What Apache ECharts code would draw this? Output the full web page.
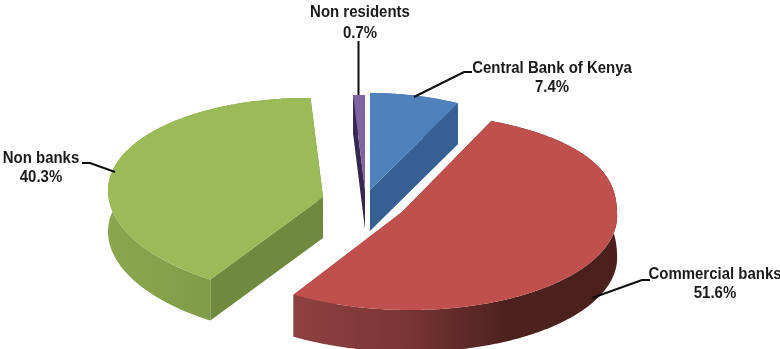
<!DOCTYPE html>
<html><head><meta charset="utf-8">
<style>html,body{margin:0;padding:0;background:#fff}#c{width:780px;height:349px}</style>
<script src="https://cdn.jsdelivr.net/npm/echarts@6/dist/echarts.min.js"></script>
</head><body><div id="c"></div>
<script>
var categories = ['Central Bank of Kenya', 'Commercial banks', 'Non banks', 'Non residents'];
var shares = [7.4, 51.6, 40.3, 0.7];

// Drawing style for each slice: explode position, ellipse radii, shear and colours.
var sliceStyle = [
  {ax:370, ay:190, rx:196, ryB:97,   ryF:97,  sx:0,  sy:0, eB:1,   d:41, top:'#4f81bd', cut:'#376092', wall:['#376092','#376092']},
  {ax:402, ay:212, rx:215, ryB:99.5, ryF:98,  sx:-8, sy:0, eB:0.8, d:42, top:'#c0504d', cut:'#7d3533', wall:['#8f4140','#7a3634','#4c211e','#4a1f1c']},
  {ax:323, ay:197, rx:215, ryB:99,   ryF:101, sx:-3, sy:5, eB:1,   d:41, top:'#9bbb59', cut:'#6f8a3f', wall:['#8aa64e','#84a04a','#7e9847','#7e9847']},
  {ax:365, ay:190, rx:270, ryB:95,   ryF:95,  sx:0,  sy:0, eB:1,   d:39, top:'#8064a2', cut:'#37284f', wall:['#37284f','#37284f']}
];
var labelStyle = [
  {x:552, y:[69,88],  line:[[414,97],[464,72],[472,72]]},
  {x:715, y:[275,294],line:[[592,298],[642,280],[650,280]]},
  {x:41,  y:[159,178],line:[[115,172],[90,163],[82,163]]},
  {x:360, y:[13,34],  line:[[358.5,95],[358.5,41]]}
];
var LABEL_FONT = 'bold 16px "Liberation Sans", Arial, sans-serif';
var LABEL_SQUEEZE = 0.935;

function toPoint(s, deg) {
  var t = deg * Math.PI / 180, c = Math.cos(t), sn = Math.sin(t);
  var yc = c > 0 ? s.ryB * Math.pow(c, s.eB) : s.ryF * c;
  return [s.ax + s.rx * sn + s.sx * c, s.ay - yc + s.sy * sn];
}
function arcPoints(s, a0, a1) {
  var pts = [], n = Math.max(4, Math.ceil((a1 - a0) * 1.5));
  for (var i = 0; i <= n; i++) pts.push(toPoint(s, a0 + (a1 - a0) * i / n));
  return pts;
}
function down(p, d) { return [p[0], p[1] + d]; }
function textEl(str, x, y) {
  return {type:'text', x:x, y:y, scaleX:LABEL_SQUEEZE,
    style:{text:str, align:'center', verticalAlign:'middle', font:LABEL_FONT, fill:'#1a1a1a'}};
}

function renderItem(params, api) {
  var i = params.dataIndex, s = sliceStyle[i], l = labelStyle[i];
  var total = shares.reduce(function (a, b) { return a + b; }, 0);
  var before = shares.slice(0, i).reduce(function (a, b) { return a + b; }, 0);
  var a0 = before / total * 360, a1 = (before + api.value(0)) / total * 360;
  var arc = arcPoints(s, a0, a1), apex = [s.ax, s.ay];
  var first = arc[0], last = arc[arc.length - 1];

  var wallPts = arc.concat(arc.slice().reverse().map(function (p) { return down(p, s.d); }));
  var stops = s.wall.map(function (col, k) { return {offset: k / (s.wall.length - 1), color: col}; });
  var children = [
    {type:'polygon', shape:{points:[apex, first, down(first,s.d), down(apex,s.d)]}, style:{fill:s.cut}},
    {type:'polygon', shape:{points:[apex, last, down(last,s.d), down(apex,s.d)]}, style:{fill:s.cut}},
    {type:'polygon', shape:{points:wallPts}, style:{fill:new echarts.graphic.LinearGradient(0,0,1,0,stops)}},
    {type:'polygon', shape:{points:[apex].concat(arc)}, style:{fill:s.top}},
    {type:'polyline', shape:{points:l.line}, style:{fill:null, stroke:'#0d0d0d', lineWidth:2}},
    textEl(categories[i], l.x, l.y[0]),
    textEl(api.value(0).toFixed(1) + '%', l.x, l.y[1])
  ];
  return {type:'group', children:children};
}

var chart = echarts.init(document.getElementById('c'), null, {renderer:'canvas'});
chart.setOption({
  animation:false,
  backgroundColor:'#ffffff',
  series:[{
    type:'custom',
    coordinateSystem:'none',
    renderItem:renderItem,
    data:shares.map(function (v, i) { return {name:categories[i], value:[v]}; })
  }]
});
</script></body></html>
